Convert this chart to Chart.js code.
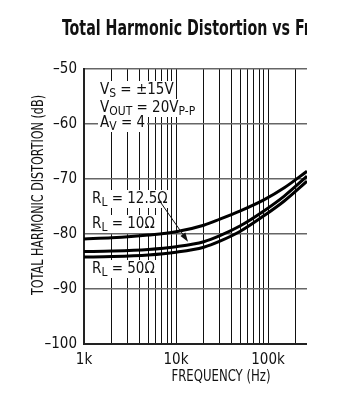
<!DOCTYPE html>
<html>
<head>
<meta charset="utf-8">
<script src="https://cdn.jsdelivr.net/npm/chart.js@4"></script>
<style>
html, body { margin: 0; padding: 0; background: #fff; }
#wrap { width: 307px; height: 404px; position: relative; }
</style>
</head>
<body>
<div id="wrap"><canvas id="thdChart"></canvas></div>
<script>
// frequencies (Hz) and THD (dB)
const freqHz = [1000, 2000, 5000, 10000, 20000, 30000, 50000, 90000, 150000, 265000];
const thdRL10 = [-80.9, -80.7, -80.2, -79.6, -78.4, -77.3, -75.8, -73.8, -71.6, -68.6];
const thdRL12p5 = [-83.2, -83.1, -82.8, -82.3, -81.4, -80.3, -78.5, -75.8, -73.1, -69.5];
const thdRL50 = [-84.2, -84.1, -83.8, -83.3, -82.4, -81.3, -79.5, -76.7, -74.0, -70.4];

const yTicks = [-100, -90, -80, -70, -60, -50];
const xGrid = [1000, 2000, 3000, 4000, 5000, 6000, 7000, 8000, 9000,
    10000, 20000, 30000, 40000, 50000, 60000, 70000, 80000, 90000,
    100000, 200000];
const xLabels = { 1000: '1k', 10000: '10k', 100000: '100k' };

const NARROW = '"Liberation Sans Narrow", "DejaVu Sans Condensed", sans-serif';

// annotation lines: [left, baseline, parts]
const notes = [
    [100, 94, [['V'], ['S', 1], [' = \u00b115V']]],
    [100, 112, [['V'], ['OUT', 1], [' = 20V'], ['P-P', 1]]],
    [100, 127, [['A'], ['V', 1], [' = 4']]],
    [92, 203, [['R'], ['L', 1], [' = 12.5\u03a9']]],
    [92, 228, [['R'], ['L', 1], [' = 10\u03a9']]],
    [92, 273, [['R'], ['L', 1], [' = 50\u03a9']]]
];

function toPoints(ys) {
    return freqHz.map((f, i) => ({ x: f, y: ys[i] }));
}

function curve(ys) {
    return {
        data: toPoints(ys),
        showLine: true,
        borderColor: '#000',
        borderWidth: 3,
        pointRadius: 0,
        cubicInterpolationMode: 'monotone',
        fill: false
    };
}

const BIG = '15px ' + NARROW, SMALL = '12px ' + NARROW;

function richWidth(ctx, parts) {
    let w = 0;
    parts.forEach(p => { ctx.font = p[1] ? SMALL : BIG; w += ctx.measureText(p[0]).width; });
    return w;
}

function drawRich(ctx, x, y, parts) {
    ctx.fillStyle = '#111';
    ctx.textBaseline = 'alphabetic';
    ctx.textAlign = 'left';
    let cx = x;
    parts.forEach(p => {
        ctx.font = p[1] ? SMALL : BIG;
        ctx.fillText(p[0], cx, p[1] ? y + 3 : y);
        cx += ctx.measureText(p[0]).width;
    });
}

function fitText(ctx, text, cx, cy, width, font, rotate) {
    ctx.save();
    ctx.font = font;
    ctx.fillStyle = '#111';
    ctx.textAlign = 'center';
    ctx.textBaseline = 'middle';
    ctx.translate(cx, cy);
    if (rotate) ctx.rotate(-Math.PI / 2);
    const sx = width / ctx.measureText(text).width;
    ctx.scale(sx, 1);
    ctx.fillText(text, 0, 0);
    ctx.restore();
}

const labelsPlugin = {
    id: 'labels',
    beforeDatasetsDraw(chart) {
        const ctx = chart.ctx;
        ctx.save();
        // white boxes first so they never cut into neighbouring text
        notes.forEach(n => {
            ctx.fillStyle = '#fff';
            ctx.fillRect(n[0] - 2, n[1] - 13, richWidth(ctx, n[2]) + 4, 18);
        });
        notes.forEach(n => drawRich(ctx, n[0], n[1], n[2]));
        ctx.restore();
    },
    afterDatasetsDraw(chart) {
        const ctx = chart.ctx;
        const xs = chart.scales.x, ys = chart.scales.y;
        // arrow from the 12.5 ohm label to its curve
        const x0 = xs.getPixelForValue(6700), y0 = ys.getPixelForValue(-74.1);
        const x1 = xs.getPixelForValue(13500), y1 = ys.getPixelForValue(-81.4);
        const a = Math.atan2(y1 - y0, x1 - x0);
        ctx.save();
        ctx.strokeStyle = '#111';
        ctx.fillStyle = '#111';
        ctx.lineWidth = 1;
        ctx.beginPath();
        ctx.moveTo(x0, y0);
        ctx.lineTo(x1 - 6 * Math.cos(a), y1 - 6 * Math.sin(a));
        ctx.stroke();
        ctx.beginPath();
        ctx.moveTo(x1, y1);
        ctx.lineTo(x1 - 9 * Math.cos(a) + 3 * Math.sin(a), y1 - 9 * Math.sin(a) - 3 * Math.cos(a));
        ctx.lineTo(x1 - 9 * Math.cos(a) - 3 * Math.sin(a), y1 - 9 * Math.sin(a) + 3 * Math.cos(a));
        ctx.closePath();
        ctx.fill();
        ctx.restore();
    },
    afterDraw(chart) {
        const ctx = chart.ctx;
        // title, cut off at the right edge like the source
        ctx.save();
        ctx.font = 'bold 21px ' + NARROW;
        ctx.fillStyle = '#111';
        ctx.textBaseline = 'alphabetic';
        ctx.textAlign = 'left';
        const sx = 233 / ctx.measureText('Total Harmonic Distortion vs ').width;
        ctx.translate(62, 35);
        ctx.scale(sx, 1);
        ctx.fillText('Total Harmonic Distortion vs Frequency', 0, 0);
        ctx.restore();
        fitText(ctx, 'TOTAL HARMONIC DISTORTION (dB)', 39, 195, 200, '15px ' + NARROW, true);
        fitText(ctx, 'FREQUENCY (Hz)', 221, 377, 99, '16px ' + NARROW, false);
    }
};

new Chart(document.getElementById('thdChart'), {
    type: 'scatter',
    data: {
        datasets: [curve(thdRL10), curve(thdRL12p5), curve(thdRL50)]
    },
    options: {
        responsive: true,
        maintainAspectRatio: false,
        animation: false,
        layout: { padding: { top: 69, left: 0, right: 0, bottom: 0 } },
        plugins: {
            legend: { display: false },
            tooltip: { enabled: false }
        },
        scales: {
            x: {
                type: 'logarithmic',
                min: 1000,
                max: 265000,
                afterBuildTicks: s => { s.ticks = xGrid.map(v => ({ value: v })); },
                afterFit: s => { s.height = 60; },
                grid: { color: '#111', lineWidth: 1, drawTicks: false },
                border: { color: '#222', width: 2 },
                ticks: {
                    autoSkip: false,
                    maxRotation: 0,
                    padding: 7,
                    color: '#111',
                    font: { family: NARROW, size: 15 },
                    callback: v => xLabels[v] || ''
                }
            },
            y: {
                min: -100,
                max: -50,
                afterBuildTicks: s => { s.ticks = yTicks.map(v => ({ value: v })); },
                afterFit: s => { s.width = 84; },
                grid: { color: '#666', lineWidth: 1.5, drawTicks: false },
                border: { color: '#222', width: 2 },
                ticks: {
                    padding: 7,
                    color: '#111',
                    font: { family: NARROW, size: 15 },
                    callback: v => '\u2013' + Math.abs(v)
                }
            }
        }
    },
    plugins: [labelsPlugin]
});
</script>
</body>
</html>
